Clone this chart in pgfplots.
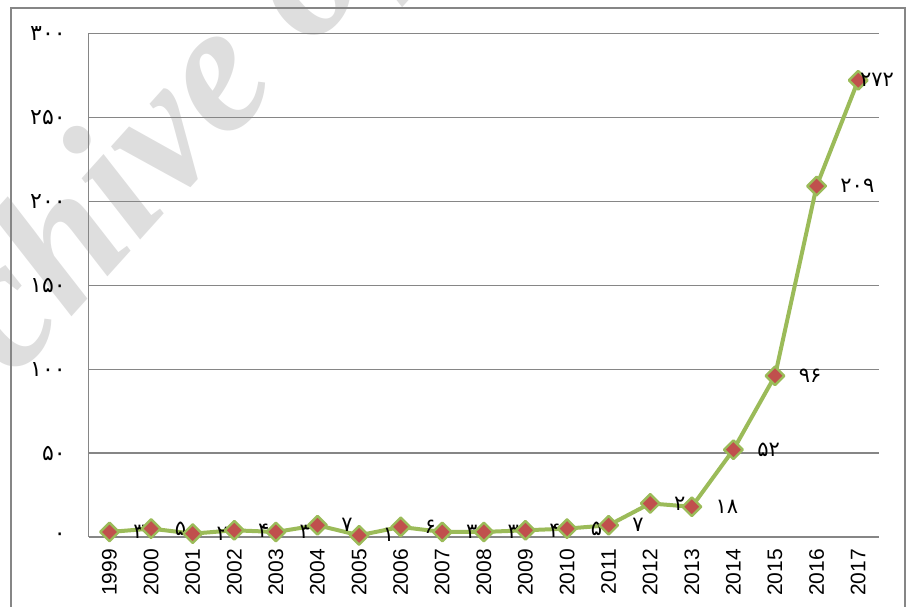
\documentclass[border=0pt]{standalone}
\usepackage{pgfplots}
\pgfplotsset{compat=1.18}
\usepackage{fontspec}
\setmainfont{Liberation Sans}
\newfontfamily\fa{DejaVu Sans}
\newfontfamily\wm{Liberation Serif}
\definecolor{lgreen}{HTML}{9BBB59}
\definecolor{lred}{HTML}{C0504D}
\definecolor{gridc}{HTML}{868686}
\begin{document}
\begin{tikzpicture}
\path[use as bounding box] (0,0) rectangle (457bp,303.5bp);
\begin{scope}
\clip (0,0) rectangle (457bp,303.5bp);
\node[rotate=48, font=\wm\bfseries\itshape\fontsize{92bp}{96bp}\selectfont, text=black!13, anchor=base west, inner sep=0pt] at (-57.7bp,41.2bp) {Archive of SID};
\end{scope}
\draw[gridc, line width=1bp] (5.5bp,-2bp) -- (5.5bp,299.5bp) -- (452.5bp,299.5bp) -- (452.5bp,-2bp);
\begin{axis}[
  scale only axis, width=395.15bp, height=251.85bp,
  at={(44.35bp,35bp)}, anchor=south west,
  xmin=-0.5, xmax=18.5, ymin=0, ymax=300,
  axis x line*=bottom, axis y line*=left,
  axis line style={gridc, line width=0.6bp},
  ymajorgrids, grid style={gridc, line width=0.6bp},
  major tick length=0,
  ytick={0,50,100,150,200,250,300},
  yticklabels={۰,۵۰,۱۰۰,۱۵۰,۲۰۰,۲۵۰,۳۰۰},
  yticklabel style={font=\fa\fontsize{11bp}{13bp}\selectfont, anchor=east, xshift=-8bp},
  xtick={0,...,18},
  xticklabels={1999,2000,2001,2002,2003,2004,2005,2006,2007,2008,2009,2010,2011,2012,2013,2014,2015,2016,2017},
  xticklabel style={rotate=90, anchor=east, font=\fontsize{10.5bp}{12bp}\selectfont},
  xticklabel shift=2.5bp,
  clip=false,
]
\addplot[lgreen, line width=2bp, line join=round,
  mark=square*, mark size=3.3bp,
  mark options={rotate=45, fill=lred, draw=lgreen, line width=1.2bp},
  nodes near coords, point meta=explicit symbolic,
  visualization depends on={\thisrow{dx} \as \dx},
  every node near coord/.append style={anchor=west, xshift=\dx bp, font=\fa\fontsize{10.5bp}{12bp}\selectfont, text=black}]
table[x=x, y=y, meta=lbl] {
x y lbl dx
0 3 ۳ 8
1 5 ۵ 8
2 2 ۲ 8
3 4 ۴ 8
4 3 ۳ 8
5 7 ۷ 8
6 1 ۱ 8
7 6 ۶ 8
8 3 ۳ 8
9 3 ۳ 8
10 4 ۴ 8
11 5 ۵ 8
12 7 ۷ 8
13 20 ۲۰ 8
14 18 ۱۸ 8
15 52 ۵۲ 8
16 96 ۹۶ 8
17 209 ۲۰۹ 8
18 272 ۲۷۲ -3
};
\end{axis}
\end{tikzpicture}
\end{document}
